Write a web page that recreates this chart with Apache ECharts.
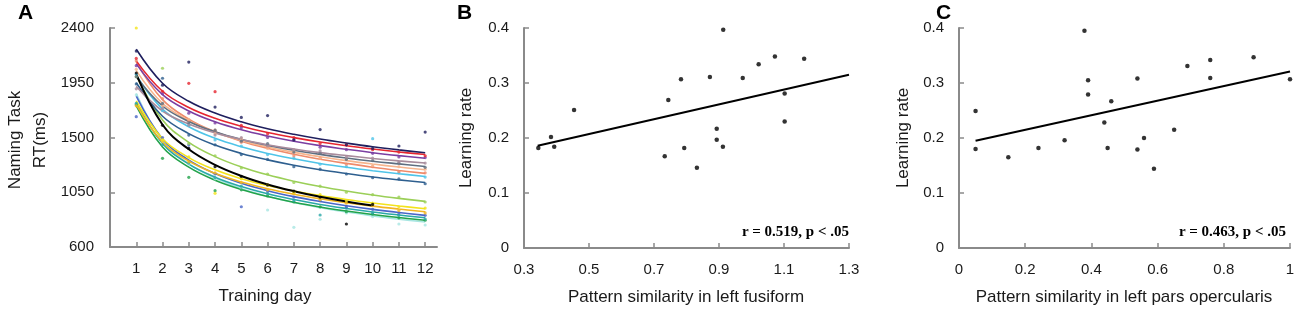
<!DOCTYPE html>
<html>
<head>
<meta charset="utf-8">
<script src="https://cdn.jsdelivr.net/npm/echarts@6/dist/echarts.min.js"></script>
<style>html,body{margin:0;padding:0;background:#fff}#c{width:1300px;height:317px}</style>
</head>
<body>
<div id="c"></div>
<script>
// ---------- Panel A data ----------
const days = [1,2,3,4,5,6,7,8,9,10,11,12];
const dayTicks = [1,2,3,4,5,6,7,8,9,10,11,12];
const rtTicks = [600,1050,1500,1950,2400];

// fitted curves (one per subject)
const fitNavy   = [2225,1946,1798,1701,1629,1572,1526,1487,1454,1424,1398,1375];
const fitRed    = [2130,1880,1747,1658,1593,1541,1499,1463,1432,1405,1381,1360];
const fitPurple = [2105,1852,1718,1629,1563,1512,1469,1433,1403,1375,1351,1330];
const fitMauve  = [1920,1718,1611,1538,1484,1441,1406,1376,1351,1328,1308,1290];
const fitSlate  = [2000,1759,1632,1547,1484,1435,1395,1361,1331,1305,1283,1262];
const fitPeach  = [2050,1780,1639,1545,1476,1422,1378,1342,1310,1282,1257,1235];
const fitSalmon = [2120,1811,1651,1547,1470,1411,1362,1321,1287,1256,1229,1205];
const fitSky    = [2010,1733,1588,1493,1424,1369,1325,1287,1255,1227,1202,1180];
const fitSteel  = [1950,1675,1532,1438,1369,1316,1272,1235,1204,1176,1152,1130];
const fitLgreen = [2010,1643,1460,1343,1258,1193,1141,1097,1060,1028,1000,975];
const fitBlack  = [2020,1605,1403,1275,1184,1114,1059,1013,974,941];
const fitYellow = [1800,1490,1335,1234,1161,1105,1060,1022,990,962,937,915];
const fitGold   = [1770,1461,1306,1206,1134,1078,1033,996,964,936,912,890];
const fitBlue   = [1840,1488,1314,1204,1124,1063,1014,974,939,909,883,860];
const fitTeal   = [1790,1450,1281,1174,1097,1037,990,950,917,888,863,840];
const fitGreen  = [1760,1422,1256,1149,1073,1015,968,929,896,867,842,820];
const fitLcyan  = [1860,1473,1284,1166,1081,1017,965,923,887,856,829,805];

// observed daily RTs (dots)
const obsNavy   = [2210,1930,2120,1750,1665,1680,1480,1565,1440,1410,1430,1545];
const obsRed    = [2150,1880,1945,1877,1600,1530,1500,1450,1440,1400,1380,1350];
const obsPurple = [2090,1860,1700,1620,1580,1500,1480,1420,1400,1370,1340,1335];
const obsMauve  = [1900,1740,1600,1520,1500,1430,1400,1390,1340,1330,1300,1290];
const obsSlate  = [2000,1780,1620,1560,1470,1450,1380,1370,1320,1310,1290,1255];
const obsPeach  = [2060,1760,1650,1530,1490,1410,1390,1330,1320,1270,1260,1240];
const obsSalmon = [2130,1820,1640,1560,1460,1420,1350,1330,1280,1260,1220,1210];
const obsSky    = [2020,1720,1600,1480,1430,1360,1330,1280,1260,1490,1210,1175];
const obsSteel  = [1940,1987,1520,1440,1360,1320,1260,1240,1200,1170,1160,1120];
const obsLgreen = [2000,2069,1450,1350,1250,1200,1130,1100,1050,1030,1010,970];
const obsBlack  = [2030,1600,1410,1260,1180,1110,1060,1010,789,950];
const obsYellow = [2400,1480,1340,1041,1160,1110,1050,1030,980,960,930,920];
const obsGold   = [1760,1470,1300,1210,1130,1070,1040,990,960,940,900,880];
const obsBlue   = [1671,1500,1438,1200,931,1060,1010,980,930,910,880,860];
const obsTeal   = [1780,1440,1290,1170,1100,1040,980,863,920,880,860,830];
const obsGreen  = [1770,1329,1173,1063,1070,1020,970,930,890,870,840,820];
const obsLcyan  = [1850,1470,1280,1160,1080,904,762,828,880,850,789,781];

const subjectColors = ['#a8e6e2','#22a34a','#2aa8a8','#4a66c8','#f2b521','#f3e31c','#9bcf58','#2e5f8f','#4fc4e8','#ef8b6b','#f6b58e','#5f6f80','#a88c9c','#7b3fa2','#e62630','#1f1f5e','#000000'];
const subjectFits = [fitLcyan,fitGreen,fitTeal,fitBlue,fitGold,fitYellow,fitLgreen,fitSteel,fitSky,fitSalmon,fitPeach,fitSlate,fitMauve,fitPurple,fitRed,fitNavy,fitBlack];
const subjectObs  = [obsLcyan,obsGreen,obsTeal,obsBlue,obsGold,obsYellow,obsLgreen,obsSteel,obsSky,obsSalmon,obsPeach,obsSlate,obsMauve,obsPurple,obsRed,obsNavy,obsBlack];

// ---------- Panel B data ----------
const fusiformX = [0.344,0.383,0.393,0.454,0.744,0.733,0.783,0.793,0.832,0.872,0.893,0.893,0.912,0.913,0.973,1.022,1.072,1.102,1.102,1.162];
const fusiformY = [0.182,0.202,0.184,0.251,0.269,0.167,0.307,0.182,0.146,0.311,0.217,0.197,0.184,0.397,0.309,0.334,0.348,0.281,0.230,0.344];
const fusiformFitX = [0.342,1.3];
const fusiformFitY = [0.186,0.315];
const fusiformTicks = [0.3,0.5,0.7,0.9,1.1,1.3];

// ---------- Panel C data ----------
const opercX = [0.05,0.05,0.149,0.24,0.319,0.379,0.39,0.39,0.439,0.449,0.46,0.539,0.539,0.559,0.589,0.65,0.69,0.759,0.759,0.89,1.0];
const opercY = [0.249,0.180,0.165,0.182,0.196,0.395,0.305,0.279,0.228,0.182,0.267,0.308,0.179,0.200,0.144,0.215,0.331,0.342,0.309,0.347,0.307];
const opercFitX = [0.05,1.0];
const opercFitY = [0.195,0.321];
const opercTicks = [0,0.2,0.4,0.6,0.8,1];
const rateTicks = [0,0.1,0.2,0.3,0.4];

// ---------- chart ----------
const FONT = '"Liberation Sans", Arial, sans-serif';
const AXC = '#8a8a8a';
const pair = (xs, ys) => xs.map((x, i) => [x, ys[i]]);

function axisCommon(extra) {
  return Object.assign({
    axisLine: {show: true, onZero: false, lineStyle: {color: AXC, width: 2}},
    axisTick: {show: true, inside: true, length: 5, lineStyle: {color: AXC, width: 1.5}},
    axisLabel: {color: '#1a1a1a', fontFamily: FONT, fontSize: 15, margin: 14},
    splitLine: {show: false}
  }, extra);
}

const series = [];
subjectFits.forEach((f, i) => {
  series.push({type: 'line', xAxisIndex: 0, yAxisIndex: 0, data: pair(days.slice(0, f.length), f),
    smooth: 0.4, showSymbol: false, lineStyle: {color: subjectColors[i], width: i === 16 ? 2 : 1.6}, z: 2 + i * 0.01, silent: true});
});
subjectObs.forEach((o, i) => {
  series.push({type: 'scatter', xAxisIndex: 0, yAxisIndex: 0, data: pair(days.slice(0, o.length), o),
    symbolSize: 3.2, itemStyle: {color: subjectColors[i]}, z: 3, silent: true});
});
series.push({type: 'scatter', xAxisIndex: 1, yAxisIndex: 1, data: pair(fusiformX, fusiformY), symbolSize: 4.5, itemStyle: {color: '#000'}});
series.push({type: 'line', xAxisIndex: 1, yAxisIndex: 1, data: pair(fusiformFitX, fusiformFitY), showSymbol: false, lineStyle: {color: '#000', width: 2}});
series.push({type: 'scatter', xAxisIndex: 2, yAxisIndex: 2, data: pair(opercX, opercY), symbolSize: 4.5, itemStyle: {color: '#000'}});
series.push({type: 'line', xAxisIndex: 2, yAxisIndex: 2, data: pair(opercFitX, opercFitY), showSymbol: false, lineStyle: {color: '#000', width: 2}});

const rateFmt = v => (Math.abs(v) < 1e-9 ? '0' : (+v).toFixed(1));

const option = {
  animation: false,
  backgroundColor: '#fff',
  grid: [
    {left: 110, top: 28, width: 327, height: 219},
    {left: 524, top: 28, width: 325, height: 220},
    {left: 959, top: 28, width: 331, height: 220}
  ],
  xAxis: [
    axisCommon({gridIndex: 0, type: 'value', min: 0, max: 12.45,
      axisTick: {show: true, inside: true, length: 5, customValues: dayTicks, lineStyle: {color: AXC, width: 1.5}},
      axisLabel: {color: '#1a1a1a', fontFamily: FONT, fontSize: 15, margin: 14, customValues: dayTicks, formatter: v => String(Math.round(v))}}),
    axisCommon({gridIndex: 1, type: 'value', min: 0.3, max: 1.3,
      axisTick: {show: true, inside: true, length: 5, customValues: fusiformTicks, lineStyle: {color: AXC, width: 1.5}},
      axisLabel: {color: '#1a1a1a', fontFamily: FONT, fontSize: 15, margin: 14, customValues: fusiformTicks, formatter: v => (+v).toFixed(1)}}),
    axisCommon({gridIndex: 2, type: 'value', min: 0, max: 1,
      axisTick: {show: true, inside: true, length: 5, customValues: opercTicks, lineStyle: {color: AXC, width: 1.5}},
      axisLabel: {color: '#1a1a1a', fontFamily: FONT, fontSize: 15, margin: 14, customValues: opercTicks, formatter: v => (Math.abs(v) < 1e-9 ? '0' : Math.abs(v - 1) < 1e-9 ? '1' : (+v).toFixed(1))}})
  ],
  yAxis: [
    axisCommon({gridIndex: 0, type: 'value', min: 600, max: 2400,
      axisTick: {show: true, inside: true, length: 5, customValues: rtTicks, lineStyle: {color: AXC, width: 1.5}},
      axisLabel: {color: '#1a1a1a', fontFamily: FONT, fontSize: 15, margin: 16, customValues: rtTicks, formatter: v => String(Math.round(v))}}),
    axisCommon({gridIndex: 1, type: 'value', min: 0, max: 0.4,
      axisTick: {show: true, inside: true, length: 5, customValues: rateTicks, lineStyle: {color: AXC, width: 1.5}},
      axisLabel: {color: '#1a1a1a', fontFamily: FONT, fontSize: 15, margin: 15, customValues: rateTicks, formatter: rateFmt}}),
    axisCommon({gridIndex: 2, type: 'value', min: 0, max: 0.4,
      axisTick: {show: true, inside: true, length: 5, customValues: rateTicks, lineStyle: {color: AXC, width: 1.5}},
      axisLabel: {color: '#1a1a1a', fontFamily: FONT, fontSize: 15, margin: 15, customValues: rateTicks, formatter: rateFmt}})
  ],
  graphic: [
    {type: 'text', left: 18, top: 3, style: {text: 'A', font: 'bold 21px ' + FONT, fill: '#000'}},
    {type: 'text', left: 457, top: 3, style: {text: 'B', font: 'bold 21px ' + FONT, fill: '#000'}},
    {type: 'text', left: 936, top: 3, style: {text: 'C', font: 'bold 21px ' + FONT, fill: '#000'}},
    {type: 'text', x: 15, y: 140, rotation: Math.PI / 2, style: {text: 'Naming Task', font: '17px ' + FONT, fill: '#1a1a1a', align: 'center', verticalAlign: 'middle'}},
    {type: 'text', x: 40, y: 140, rotation: Math.PI / 2, style: {text: 'RT(ms)', font: '17px ' + FONT, fill: '#1a1a1a', align: 'center', verticalAlign: 'middle'}},
    {type: 'text', x: 265, y: 296, style: {text: 'Training day', font: '17px ' + FONT, fill: '#1a1a1a', align: 'center', verticalAlign: 'middle'}},
    {type: 'text', x: 466, y: 138, rotation: Math.PI / 2, style: {text: 'Learning rate', font: '17px ' + FONT, fill: '#1a1a1a', align: 'center', verticalAlign: 'middle'}},
    {type: 'text', x: 686, y: 297, style: {text: 'Pattern similarity in left fusiform', font: '17px ' + FONT, fill: '#1a1a1a', align: 'center', verticalAlign: 'middle'}},
    {type: 'text', x: 903, y: 138, rotation: Math.PI / 2, style: {text: 'Learning rate', font: '17px ' + FONT, fill: '#1a1a1a', align: 'center', verticalAlign: 'middle'}},
    {type: 'text', x: 1124, y: 297, style: {text: 'Pattern similarity in left pars opercularis', font: '17px ' + FONT, fill: '#1a1a1a', align: 'center', verticalAlign: 'middle'}},
    {type: 'text', x: 849, y: 232, style: {text: 'r = 0.519, p < .05', font: 'bold 15px "Liberation Serif", "Times New Roman", serif', fill: '#000', align: 'right', verticalAlign: 'middle'}},
    {type: 'text', x: 1286, y: 232, style: {text: 'r = 0.463, p < .05', font: 'bold 15px "Liberation Serif", "Times New Roman", serif', fill: '#000', align: 'right', verticalAlign: 'middle'}}
  ],
  series: series
};

const chart = echarts.init(document.getElementById('c'), null, {renderer: 'canvas'});
chart.setOption(option);
</script>
</body>
</html>
